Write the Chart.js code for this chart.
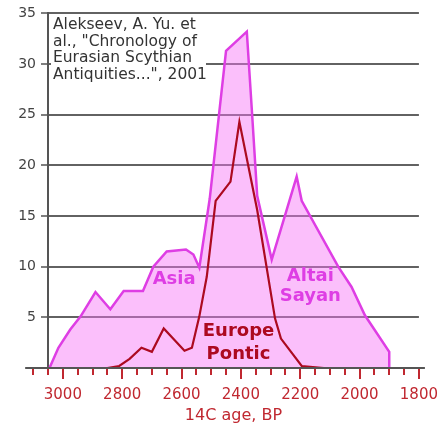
<!DOCTYPE html>
<html>
<head>
<meta charset="utf-8">
<script src="https://cdn.jsdelivr.net/npm/chart.js@4.4.1/dist/chart.umd.min.js"></script>
<style>
  html, body { margin: 0; padding: 0; background: #fff; }
  #wrap { width: 444px; height: 427px; }
</style>
</head>
<body>
<div id="wrap"><canvas id="scythian"></canvas></div>
<script>
// Asia + Altai Sayan envelope (14C age BP -> frequency)
const asiaYears  = [3045, 3015, 2975, 2940, 2890, 2840, 2795, 2730, 2695, 2650, 2585, 2560, 2540, 2505, 2450, 2380, 2362, 2345, 2296, 2212, 2195, 2072, 2027, 1982, 1900, 1900];
const asiaValues = [0, 2.0, 3.8, 5.1, 7.5, 5.8, 7.6, 7.6, 10.0, 11.5, 11.7, 11.2, 9.9, 16.7, 31.3, 33.2, 25.0, 17.0, 10.7, 18.9, 16.5, 10.0, 8.0, 5.2, 1.6, 0];

// Europe Pontic
const pontYears  = [2850, 2810, 2775, 2735, 2700, 2660, 2590, 2565, 2540, 2515, 2485, 2435, 2405, 2345, 2285, 2265, 2195, 2120];
const pontValues = [0, 0.2, 0.9, 2.0, 1.6, 3.9, 1.7, 2.0, 5.1, 9.0, 16.5, 18.4, 24.3, 15.6, 4.9, 2.9, 0.2, 0];

const noteLines = ['Alekseev, A. Yu. et', 'al., "Chronology of', 'Eurasian Scythian', 'Antiquities...", 2001'];

const asiaColor = 'rgb(222,62,228)';
const pontColor = 'rgb(172,10,32)';
const tickRed = 'rgb(192,40,48)';
const gridGray = 'rgba(70,70,70,0.85)';

const toPoints = (xs, ys) => xs.map((x, i) => ({ x: x, y: ys[i] }));

// note box, series labels, red x ticks and the x axis line (it runs a bit past the plot on the left)
const decorations = {
  id: 'decorations',
  beforeDatasetsDraw(chart) {
    const { ctx, chartArea } = chart;
    ctx.save();
    ctx.fillStyle = '#fff';
    ctx.fillRect(chartArea.left + 3, 15, 155, 70);
    ctx.fillStyle = '#333';
    ctx.font = '15.5px "DejaVu Sans"';
    ctx.textBaseline = 'middle';
    noteLines.forEach((t, i) => ctx.fillText(t, chartArea.left + 5, 25 + i * 16.7));
    ctx.restore();
  },
  afterDatasetsDraw(chart) {
    const { ctx, scales: { x, y } } = chart;
    ctx.save();
    ctx.font = 'bold 18px "DejaVu Sans"';
    ctx.textAlign = 'center';
    ctx.textBaseline = 'middle';
    const label = (lines, yr, val, color, step) => {
      ctx.fillStyle = color;
      lines.forEach((t, i) => ctx.fillText(t, x.getPixelForValue(yr), y.getPixelForValue(val) + i * step));
    };
    label(['Asia'], 2625, 8.8, asiaColor, 0);
    label(['Altai', 'Sayan'], 2166, 9.0, asiaColor, 20);
    label(['Europe', 'Pontic'], 2408, 3.6, pontColor, 23);
    ctx.restore();
  },
  afterDraw(chart) {
    const { ctx, chartArea, scales: { x } } = chart;
    const base = chartArea.bottom;
    ctx.save();
    ctx.strokeStyle = tickRed;
    ctx.lineWidth = 2;
    for (let yr = 3100; yr >= 1800; yr -= 50) {
      const px = Math.round(x.getPixelForValue(yr));
      const len = yr % 200 === 0 ? 11 : 7;
      ctx.beginPath();
      ctx.moveTo(px, base + 1);
      ctx.lineTo(px, base + len);
      ctx.stroke();
    }
    ctx.strokeStyle = '#555';
    ctx.beginPath();
    ctx.moveTo(x.getPixelForValue(3100) - 8, base);
    ctx.lineTo(chartArea.right + 6, base);
    ctx.stroke();
    ctx.restore();
  }
};

const ctx = document.getElementById('scythian').getContext('2d');

const chart = new Chart(ctx, {
  type: 'line',
  data: {
    datasets: [
      {
        label: 'Europe Pontic',
        data: toPoints(pontYears, pontValues),
        borderColor: pontColor,
        borderWidth: 2.2,
        pointRadius: 0,
        fill: false,
        tension: 0,
        order: 0
      },
      {
        label: 'Asia, Altai Sayan',
        data: toPoints(asiaYears, asiaValues),
        borderColor: asiaColor,
        backgroundColor: 'rgba(246,112,246,0.45)',
        borderWidth: 2.5,
        pointRadius: 0,
        fill: 'origin',
        tension: 0,
        order: 1
      }
    ]
  },
  options: {
    responsive: true,
    maintainAspectRatio: false,
    animation: false,
    layout: { padding: { left: 8, right: 5, top: 9, bottom: 0 } },
    plugins: {
      legend: { display: false },
      tooltip: { enabled: false }
    },
    scales: {
      x: {
        type: 'linear',
        min: 1800,
        max: 3050,
        reverse: true,
        border: { display: false },
        grid: { display: true, drawOnChartArea: false, drawTicks: true, tickLength: 12, tickColor: 'rgba(0,0,0,0)' },
        afterFit: s => { s.height = 59; },
        ticks: {
          stepSize: 50,
          autoSkip: false,
          maxRotation: 0,
          padding: 6,
          color: tickRed,
          font: { family: 'DejaVu Sans', size: 15 },
          callback: v => (v % 200 === 0 ? String(v) : '')
        },
        title: {
          display: true,
          text: '14C age, BP',
          color: tickRed,
          font: { family: 'DejaVu Sans', size: 16 },
          padding: { top: 4, bottom: 2 }
        }
      },
      y: {
        type: 'linear',
        min: 0,
        max: 35,
        position: 'left',
        afterFit: s => { s.width = 40; },
        border: { display: true, color: '#555', width: 2 },
        grid: {
          color: c => (c.tick && c.tick.value === 0 ? 'rgba(0,0,0,0)' : gridGray),
          lineWidth: 2,
          tickLength: 7,
          tickWidth: 1.5,
          tickColor: c => (c.tick && c.tick.value === 0 ? 'rgba(0,0,0,0)' : '#555')
        },
        ticks: {
          stepSize: 5,
          padding: 5,
          color: '#444',
          font: { family: 'DejaVu Sans', size: 14 },
          callback: v => (v === 0 ? '' : String(v))
        }
      }
    }
  },
  plugins: [decorations]
});
</script>
</body>
</html>
